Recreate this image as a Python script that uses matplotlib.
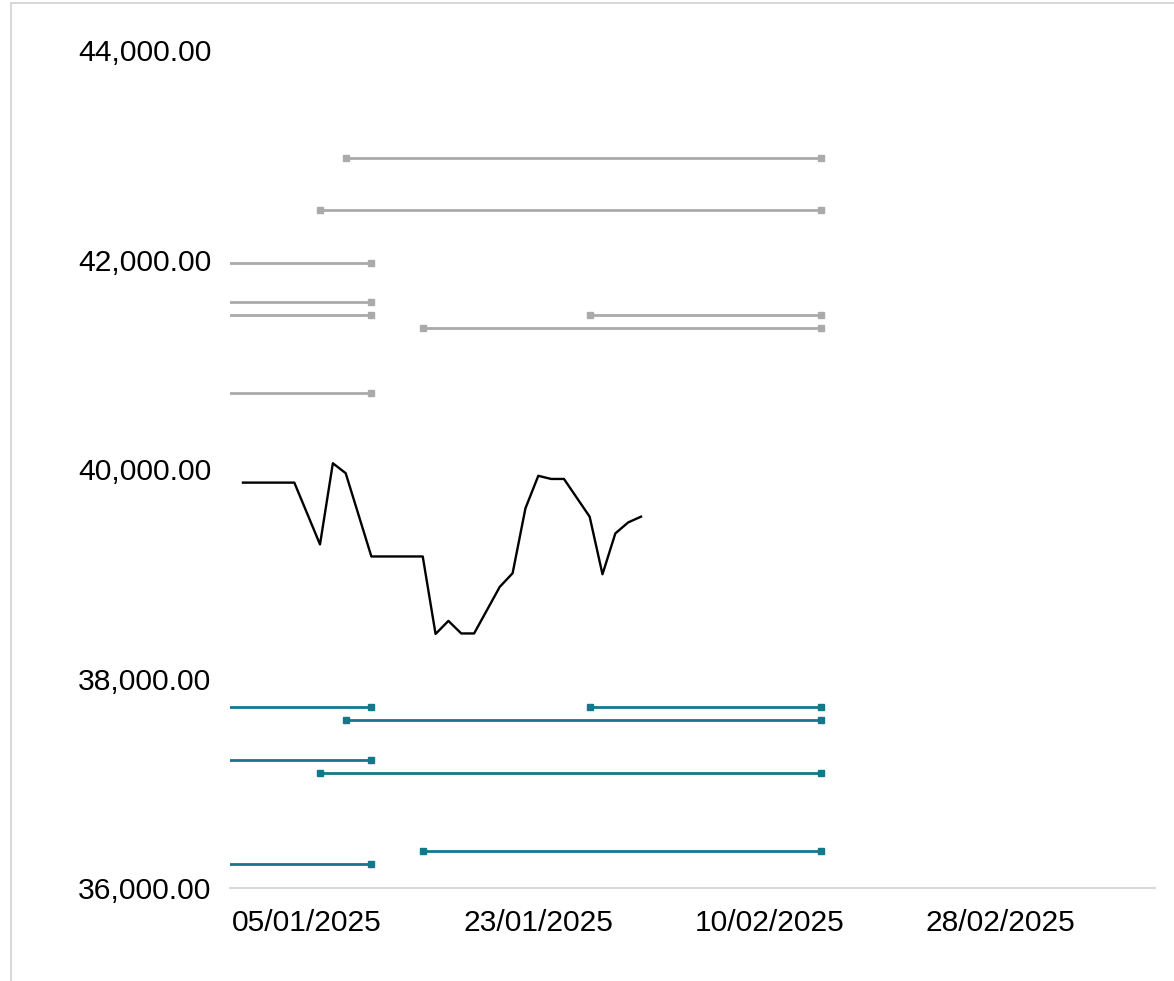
import matplotlib.pyplot as plt
import matplotlib.dates as mdates
import matplotlib.ticker as mticker
import pandas as pd

plt.rcParams['font.family'] = ['Liberation Sans', 'DejaVu Sans']

# 가격 데이터 (black line)
price_dates = ['2024-12-31', '2025-01-04', '2025-01-06', '2025-01-07', '2025-01-08',
               '2025-01-10', '2025-01-14', '2025-01-15', '2025-01-16', '2025-01-17',
               '2025-01-18', '2025-01-20', '2025-01-21', '2025-01-22', '2025-01-23',
               '2025-01-24', '2025-01-25', '2025-01-27', '2025-01-28', '2025-01-29',
               '2025-01-30', '2025-01-31']
price_values = [39870, 39870, 39280, 40055, 39960,
                39165, 39165, 38425, 38550, 38430,
                38430, 38875, 39005, 39625, 39935,
                39905, 39905, 39545, 38995, 39385,
                39490, 39545]

# 저항선 (gray)
res_start = ['2025-01-08', '2025-01-06', '2024-12-20', '2024-12-20',
             '2024-12-20', '2025-01-27', '2025-01-14', '2024-12-20']
res_end = ['2025-02-14', '2025-02-14', '2025-01-10', '2025-01-10',
           '2025-01-10', '2025-02-14', '2025-02-14', '2025-01-10']
res_level = [42970, 42470, 41970, 41595, 41470, 41470, 41350, 40725]

# 지지선 (teal)
sup_start = ['2024-12-20', '2025-01-27', '2025-01-08', '2024-12-20',
             '2025-01-06', '2025-01-14', '2024-12-20']
sup_end = ['2025-01-10', '2025-02-14', '2025-02-14', '2025-01-10',
           '2025-02-14', '2025-02-14', '2025-01-10']
sup_level = [37725, 37725, 37600, 37225, 37100, 36350, 36230]

tick_dates = ['2025-01-05', '2025-01-23', '2025-02-10', '2025-02-28']

fig = plt.figure(figsize=(11.74, 9.81), dpi=100)
ax = fig.add_axes([230 / 1174, 1 - 888 / 981, (1155 - 230) / 1174, (888 - 50) / 981])

for s, e, v in zip(res_start, res_end, res_level):
    ax.plot([pd.Timestamp(s), pd.Timestamp(e)], [v, v], color='#aaaaaa', lw=2.0,
            marker='s', markersize=4, solid_capstyle='butt')
for s, e, v in zip(sup_start, sup_end, sup_level):
    ax.plot([pd.Timestamp(s), pd.Timestamp(e)], [v, v], color='#11798a', lw=2.0,
            marker='s', markersize=4, solid_capstyle='butt')

ax.plot(pd.to_datetime(price_dates), price_values, color='black', lw=1.7)

x0 = mdates.date2num(pd.Timestamp('2025-01-05'))
ax.set_xlim(x0 - 6.01, x0 + 66.03)
ax.set_ylim(36000, 44000)

ax.set_xticks(pd.to_datetime(tick_dates))
ax.xaxis.set_major_formatter(mdates.DateFormatter('%d/%m/%Y'))
ax.set_yticks([36000, 38000, 40000, 42000, 44000])
ax.yaxis.set_major_formatter(mticker.FuncFormatter(lambda v, p: f'{v:,.2f}'))
ax.tick_params(axis='both', length=0, labelsize=21.6)
ax.tick_params(axis='y', pad=13.5)
ax.tick_params(axis='x', pad=15)

for sp in ['top', 'right', 'left']:
    ax.spines[sp].set_visible(False)
ax.spines['bottom'].set_color('#d9d9d9')
ax.spines['bottom'].set_linewidth(1.5)

# 바깥 테두리
border = plt.Rectangle((11 / 1174, -0.1), 1.2, 1 - 3 / 981 + 0.1, transform=fig.transFigure,
                       fill=False, edgecolor='#d0d0d0', lw=1.2)
fig.patches.append(border)

fig.savefig('out.png', dpi=100)
